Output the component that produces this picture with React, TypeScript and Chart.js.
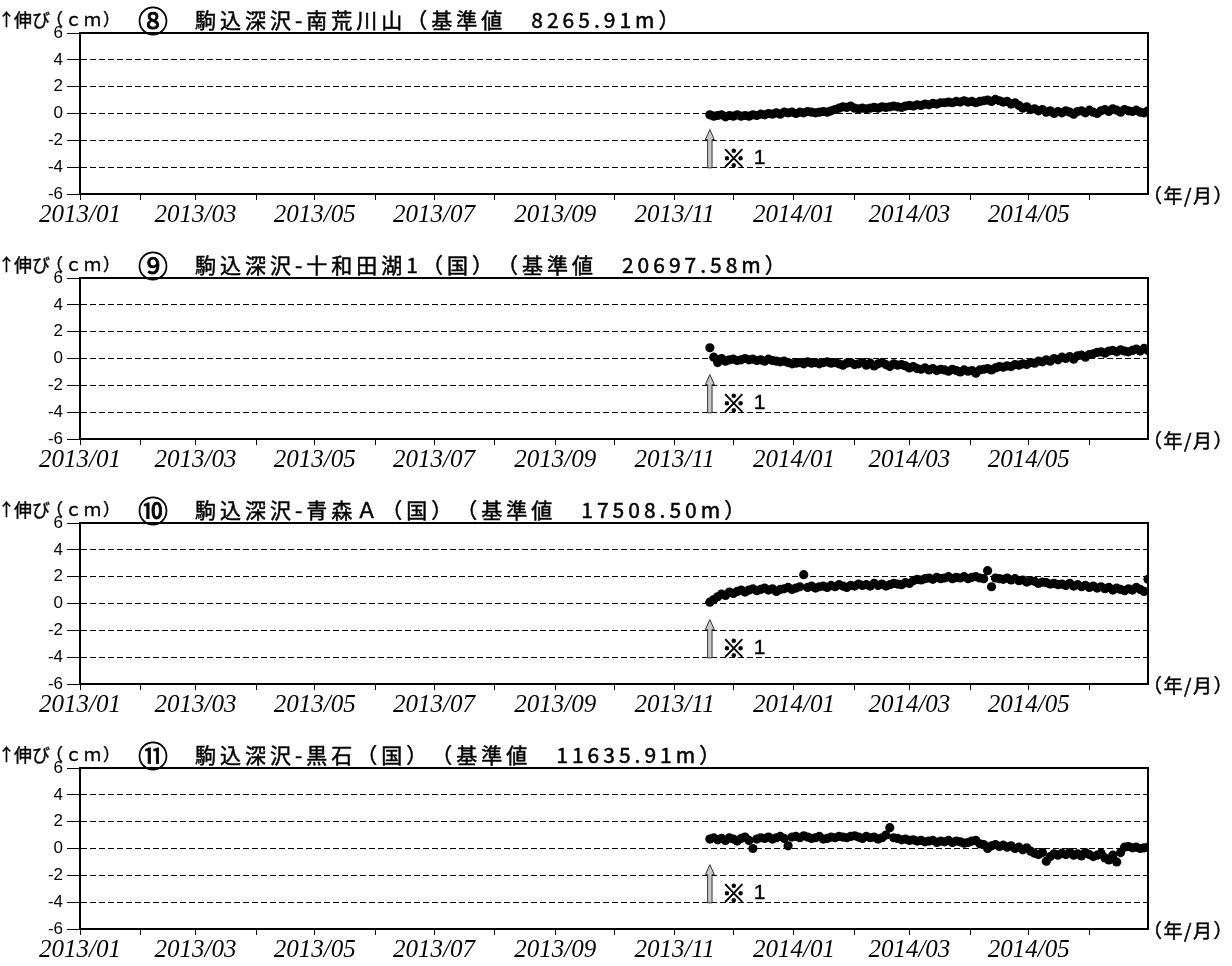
import { useEffect, useRef } from "react";
import { Chart, registerables } from "chart.js";
Chart.register(...registerables);

// x axis: days since 2013-01-01
const MONTH_TICKS = [0, 31, 59, 90, 120, 151, 181, 212, 243, 273, 304, 334, 365, 396, 424, 455, 485, 516];
const MONTH_LABELS = ["2013/01", "", "2013/03", "", "2013/05", "", "2013/07", "", "2013/09", "", "2013/11", "", "2014/01", "", "2014/03", "", "2014/05", ""];
const X_MIN = 0;
const X_MAX = 546;
const Y_MIN = -6;
const Y_MAX = 6;
const Y_STEP = 2;

const START_DAY = 322; // 2013-11-19
const STEP_DAYS = 2;
const ARROW_DAY = 322;
const ARROW_TIP = -1.2;
const ARROW_BASE = -4.05;
const NOTE_Y = -3.3;

const CIRCLED = ["⑧", "⑨", "⑩", "⑪"];
const TITLES = [
  "駒込深沢-南荒川山（基準値　8265.91m）",
  "駒込深沢-十和田湖1（国）（基準値　20697.58m）",
  "駒込深沢-青森Ａ（国）（基準値　17508.50m）",
  "駒込深沢-黒石（国）（基準値　11635.91m）",
];

const S8 = [
  -0.1, -0.2, -0.15, -0.1, -0.25, -0.15, -0.2, -0.1, -0.2, -0.15,
  -0.2, -0.1, -0.15, -0.05, -0.1, 0.0, -0.05, 0.05, -0.05, 0.1,
  0.05, 0.1, 0.0, 0.1, 0.05, 0.15, 0.1, 0.05, 0.1, 0.15,
  0.1, 0.2, 0.3, 0.4, 0.5, 0.45, 0.55, 0.4, 0.35, 0.4,
  0.35, 0.4, 0.45, 0.4, 0.5, 0.45, 0.5, 0.55, 0.5, 0.45,
  0.55, 0.6, 0.55, 0.65, 0.6, 0.7, 0.65, 0.75, 0.7, 0.8,
  0.8, 0.85, 0.8, 0.9, 0.85, 0.95, 0.85, 0.9, 0.8, 0.9,
  0.95, 1.0, 0.9, 1.05, 0.95, 0.85, 0.9, 0.7, 0.8, 0.6,
  0.4, 0.5, 0.3, 0.35, 0.2, 0.3, 0.1, 0.2, 0.0, 0.15,
  0.05, 0.2, 0.1, -0.05, 0.15, 0.2, 0.05, 0.25, 0.1, 0.0,
  0.2, 0.3, 0.15, 0.35, 0.25, 0.1, 0.3, 0.2, 0.15, 0.25, 0.1, 0.05, 0.2,
];
const S9 = [
  0.8, 0.1, -0.3, 0.0, -0.2, -0.1, -0.05, -0.15, -0.1, 0.0,
  -0.1, -0.05, -0.15, -0.1, -0.2, -0.05, -0.15, -0.2, -0.25, -0.2,
  -0.3, -0.4, -0.35, -0.3, -0.4, -0.25, -0.35, -0.3, -0.4, -0.3,
  -0.25, -0.35, -0.3, -0.4, -0.5, -0.35, -0.3, -0.45, -0.4, -0.3,
  -0.5, -0.35, -0.55, -0.4, -0.3, -0.45, -0.6, -0.4, -0.5, -0.45,
  -0.55, -0.7, -0.6, -0.75, -0.8, -0.7, -0.85, -0.75, -0.9, -0.8,
  -0.85, -0.95, -0.8, -0.9, -1.0, -0.85, -0.95, -0.9, -1.1, -0.85,
  -0.8, -0.75, -0.85, -0.7, -0.6, -0.65, -0.55, -0.6, -0.45, -0.5,
  -0.4, -0.45, -0.3, -0.35, -0.2, -0.25, -0.1, -0.2, 0.0, -0.1,
  0.1, 0.0, 0.15, -0.05, 0.2, 0.25, 0.1, 0.3, 0.35, 0.45,
  0.5, 0.4, 0.55, 0.6, 0.5, 0.65, 0.55, 0.5, 0.6, 0.7, 0.55, 0.75, 0.6,
];
const S10 = [
  0.1, 0.3, 0.5, 0.7, 0.6, 0.85, 0.75, 0.9, 1.0, 0.85,
  1.0, 1.1, 0.95, 1.05, 1.15, 1.0, 1.1, 0.9, 1.05, 1.1,
  1.2, 1.05, 1.15, 1.25, 2.15, 1.2, 1.3, 1.15, 1.25, 1.3,
  1.2, 1.35, 1.25, 1.4, 1.3, 1.2, 1.35, 1.3, 1.45, 1.35,
  1.4, 1.3, 1.5, 1.35, 1.45, 1.3, 1.4, 1.5, 1.45, 1.4,
  1.55, 1.5, 1.7, 1.8, 1.75, 1.85, 1.9, 1.8, 1.95, 1.85,
  1.9, 2.0, 1.85, 1.95, 1.9, 2.0, 1.85, 1.95, 2.0, 1.9,
  1.85, 2.45, 1.25, 1.9, 1.85, 1.8, 1.9, 1.75, 1.85, 1.7,
  1.75, 1.6, 1.7, 1.65, 1.5, 1.6, 1.55, 1.45, 1.5, 1.4,
  1.45, 1.35, 1.5, 1.3, 1.4, 1.25, 1.35, 1.2, 1.3, 1.15,
  1.25, 1.1, 1.2, 1.0, 1.15, 1.05, 0.95, 1.1, 1.0, 1.2, 1.05, 0.9, 1.8,
];
const S11 = [
  0.7, 0.8, 0.65, 0.75, 0.6, 0.8, 0.7, 0.55, 0.75, 0.85,
  0.6, 0.0, 0.7, 0.8, 0.75, 0.85, 0.7, 0.8, 0.9, 0.75,
  0.2, 0.85, 0.9, 0.8, 0.95, 0.85, 0.75, 0.8, 0.9, 0.7,
  0.75, 0.85, 0.8, 0.9, 0.85, 0.8, 0.9, 0.95, 0.85, 0.75,
  0.9, 0.8, 0.85, 0.7, 0.8, 1.0, 1.55, 0.8, 0.75, 0.65,
  0.7, 0.6, 0.65, 0.55, 0.6, 0.5, 0.55, 0.6, 0.45, 0.55,
  0.5, 0.6, 0.45, 0.55, 0.5, 0.4, 0.45, 0.55, 0.6, 0.35,
  0.3, 0.0, 0.2, 0.3, 0.15, 0.25, 0.1, 0.2, 0.0, 0.1,
  -0.1, 0.05, -0.2, -0.35, -0.45, -0.3, -0.95, -0.6, -0.4, -0.5,
  -0.35, -0.45, -0.3, -0.5, -0.4, -0.55, -0.3, -0.45, -0.6, -0.5,
  -0.35, -0.7, -0.85, -0.5, -1.0, -0.3, 0.1, 0.15, 0.05, 0.1, 0.0, 0.05, 0.1,
];
const SERIES = [S8, S9, S10, S11];

const PANEL_H = 245;
const CJK = '"Noto Sans CJK JP", "Noto Sans", sans-serif';

function drawSpaced(ctx: CanvasRenderingContext2D, text: string, x: number, y: number, spacing: number, bold = 0) {
  let cx = x;
  for (const ch of Array.from(text)) {
    ctx.fillText(ch, cx, y);
    if (bold > 0) ctx.strokeText(ch, cx, y);
    cx += ctx.measureText(ch).width + spacing;
  }
  return cx;
}

const decoPlugin = {
  id: "deco",
  afterDatasetsDraw(chart: any) {
    const { ctx, chartArea: a, scales } = chart;
    const x = scales.x;
    const y = scales.y;
    ctx.save();
    // frame
    ctx.strokeStyle = "#000";
    ctx.lineWidth = 2;
    ctx.setLineDash([]);
    ctx.strokeRect(a.left, a.top, a.right - a.left, a.bottom - a.top);
    // arrow
    const ax = x.getPixelForValue(ARROW_DAY);
    const tip = y.getPixelForValue(ARROW_TIP);
    const base = y.getPixelForValue(ARROW_BASE);
    ctx.beginPath();
    ctx.moveTo(ax, tip);
    ctx.lineTo(ax + 4.5, tip + 10);
    ctx.lineTo(ax + 2.2, tip + 10);
    ctx.lineTo(ax + 2.2, base);
    ctx.lineTo(ax - 2.2, base);
    ctx.lineTo(ax - 2.2, tip + 10);
    ctx.lineTo(ax - 4.5, tip + 10);
    ctx.closePath();
    ctx.fillStyle = "#c8c8c8";
    ctx.fill();
    ctx.strokeStyle = "#333";
    ctx.lineWidth = 1;
    ctx.stroke();
    // note
    const ny = y.getPixelForValue(NOTE_Y);
    ctx.fillStyle = "#000";
    ctx.strokeStyle = "#000";
    ctx.textBaseline = "middle";
    ctx.textAlign = "left";
    ctx.font = `24px ${CJK}`;
    ctx.lineWidth = 0.9;
    ctx.fillText("※", ax + 12, ny);
    ctx.strokeText("※", ax + 12, ny);
    ctx.font = `21px "Liberation Sans", sans-serif`;
    ctx.lineWidth = 0.4;
    ctx.fillText("1", ax + 44, ny);
    ctx.strokeText("1", ax + 44, ny);
    ctx.restore();
  },
  afterDraw(chart: any, _args: any, opts: any) {
    const { ctx, chartArea: a } = chart;
    ctx.save();
    ctx.fillStyle = "#000";
    ctx.strokeStyle = "#000";
    ctx.textBaseline = "middle";
    ctx.textAlign = "left";
    const ty = 20;
    ctx.lineWidth = 0.4;
    ctx.font = `17px ${CJK}`;
    ctx.fillText("↑", -2, ty);
    ctx.strokeText("↑", -2, ty);
    ctx.font = `18px ${CJK}`;
    drawSpaced(ctx, "伸び", 14, ty, 0, 1);
    ctx.font = `17px ${CJK}`;
    drawSpaced(ctx, "（ｃｍ）", 46, ty, 2, 1);
    ctx.font = `30px ${CJK}`;
    ctx.lineWidth = 0.8;
    ctx.fillText(opts.circ, 138, ty + 1);
    ctx.strokeText(opts.circ, 138, ty + 1);
    ctx.lineWidth = 0.5;
    ctx.font = `21px ${CJK}`;
    drawSpaced(ctx, opts.title, 195, ty, 4, 1);
    ctx.font = `19px ${CJK}`;
    drawSpaced(ctx, "（年/月）", a.right - 5, a.bottom + 2, 1.5, 1);
    ctx.restore();
  },
};

function Panel({ index }: { index: number }) {
  const ref = useRef<HTMLCanvasElement | null>(null);
  useEffect(() => {
    if (!ref.current) return;
    const vals = SERIES[index];
    const chart = new Chart(ref.current, {
      type: "scatter",
      data: {
        datasets: [
          {
            data: vals.map((v, i) => ({ x: START_DAY + i * STEP_DAYS, y: v })),
            pointRadius: 4.6,
            pointBackgroundColor: "#000",
            pointBorderWidth: 0,
            showLine: false,
          },
        ],
      },
      options: {
        responsive: false,
        animation: false,
        events: [],
        layout: { padding: { top: 33, right: 84, left: 0, bottom: 0 } },
        plugins: {
          legend: { display: false },
          tooltip: { enabled: false },
          deco: { circ: CIRCLED[index], title: TITLES[index] },
        } as any,
        scales: {
          x: {
            type: "linear",
            min: X_MIN,
            max: X_MAX,
            afterFit(s: any) {
              s.height = 51;
            },
            afterBuildTicks(s: any) {
              s.ticks = MONTH_TICKS.map((v) => ({ value: v }));
            },
            ticks: {
              autoSkip: false,
              maxRotation: 0,
              minRotation: 0,
              padding: 0,
              color: "#000",
              font: { family: '"Liberation Serif", serif', style: "italic", size: 25 },
              callback: (_v: any, i: number) => MONTH_LABELS[i],
            },
            grid: {
              drawOnChartArea: false,
              drawTicks: true,
              tickLength: 6,
              tickColor: "#000",
              tickWidth: 1,
            },
            border: { display: true, color: "#000", width: 2 },
          },
          y: {
            min: Y_MIN,
            max: Y_MAX,
            afterFit(s: any) {
              s.width = 80;
            },
            ticks: {
              stepSize: Y_STEP,
              padding: 4,
              color: "#000",
              font: { family: '"Liberation Sans", sans-serif', size: 17 },
            },
            grid: {
              color: "#000",
              lineWidth: 1,
              drawTicks: true,
              tickLength: 13,
              tickColor: "#000",
              tickWidth: 1,
              tickBorderDash: [],
            },
            border: { display: true, color: "#000", width: 2, dash: [6, 3] },
          },
        },
      },
      plugins: [decoPlugin],
    });
    return () => chart.destroy();
  }, [index]);
  return (
    <canvas
      ref={ref}
      width={1232}
      height={PANEL_H}
      style={{ position: "absolute", left: 0, top: index * PANEL_H, width: 1232, height: PANEL_H }}
    />
  );
}

export default function App() {
  return (
    <div
      style={{
        position: "fixed",
        left: 0,
        top: 0,
        width: 1232,
        height: 966,
        overflow: "hidden",
        background: "#fff",
      }}
    >
      {[0, 1, 2, 3].map((i) => (
        <Panel key={i} index={i} />
      ))}
    </div>
  );
}
